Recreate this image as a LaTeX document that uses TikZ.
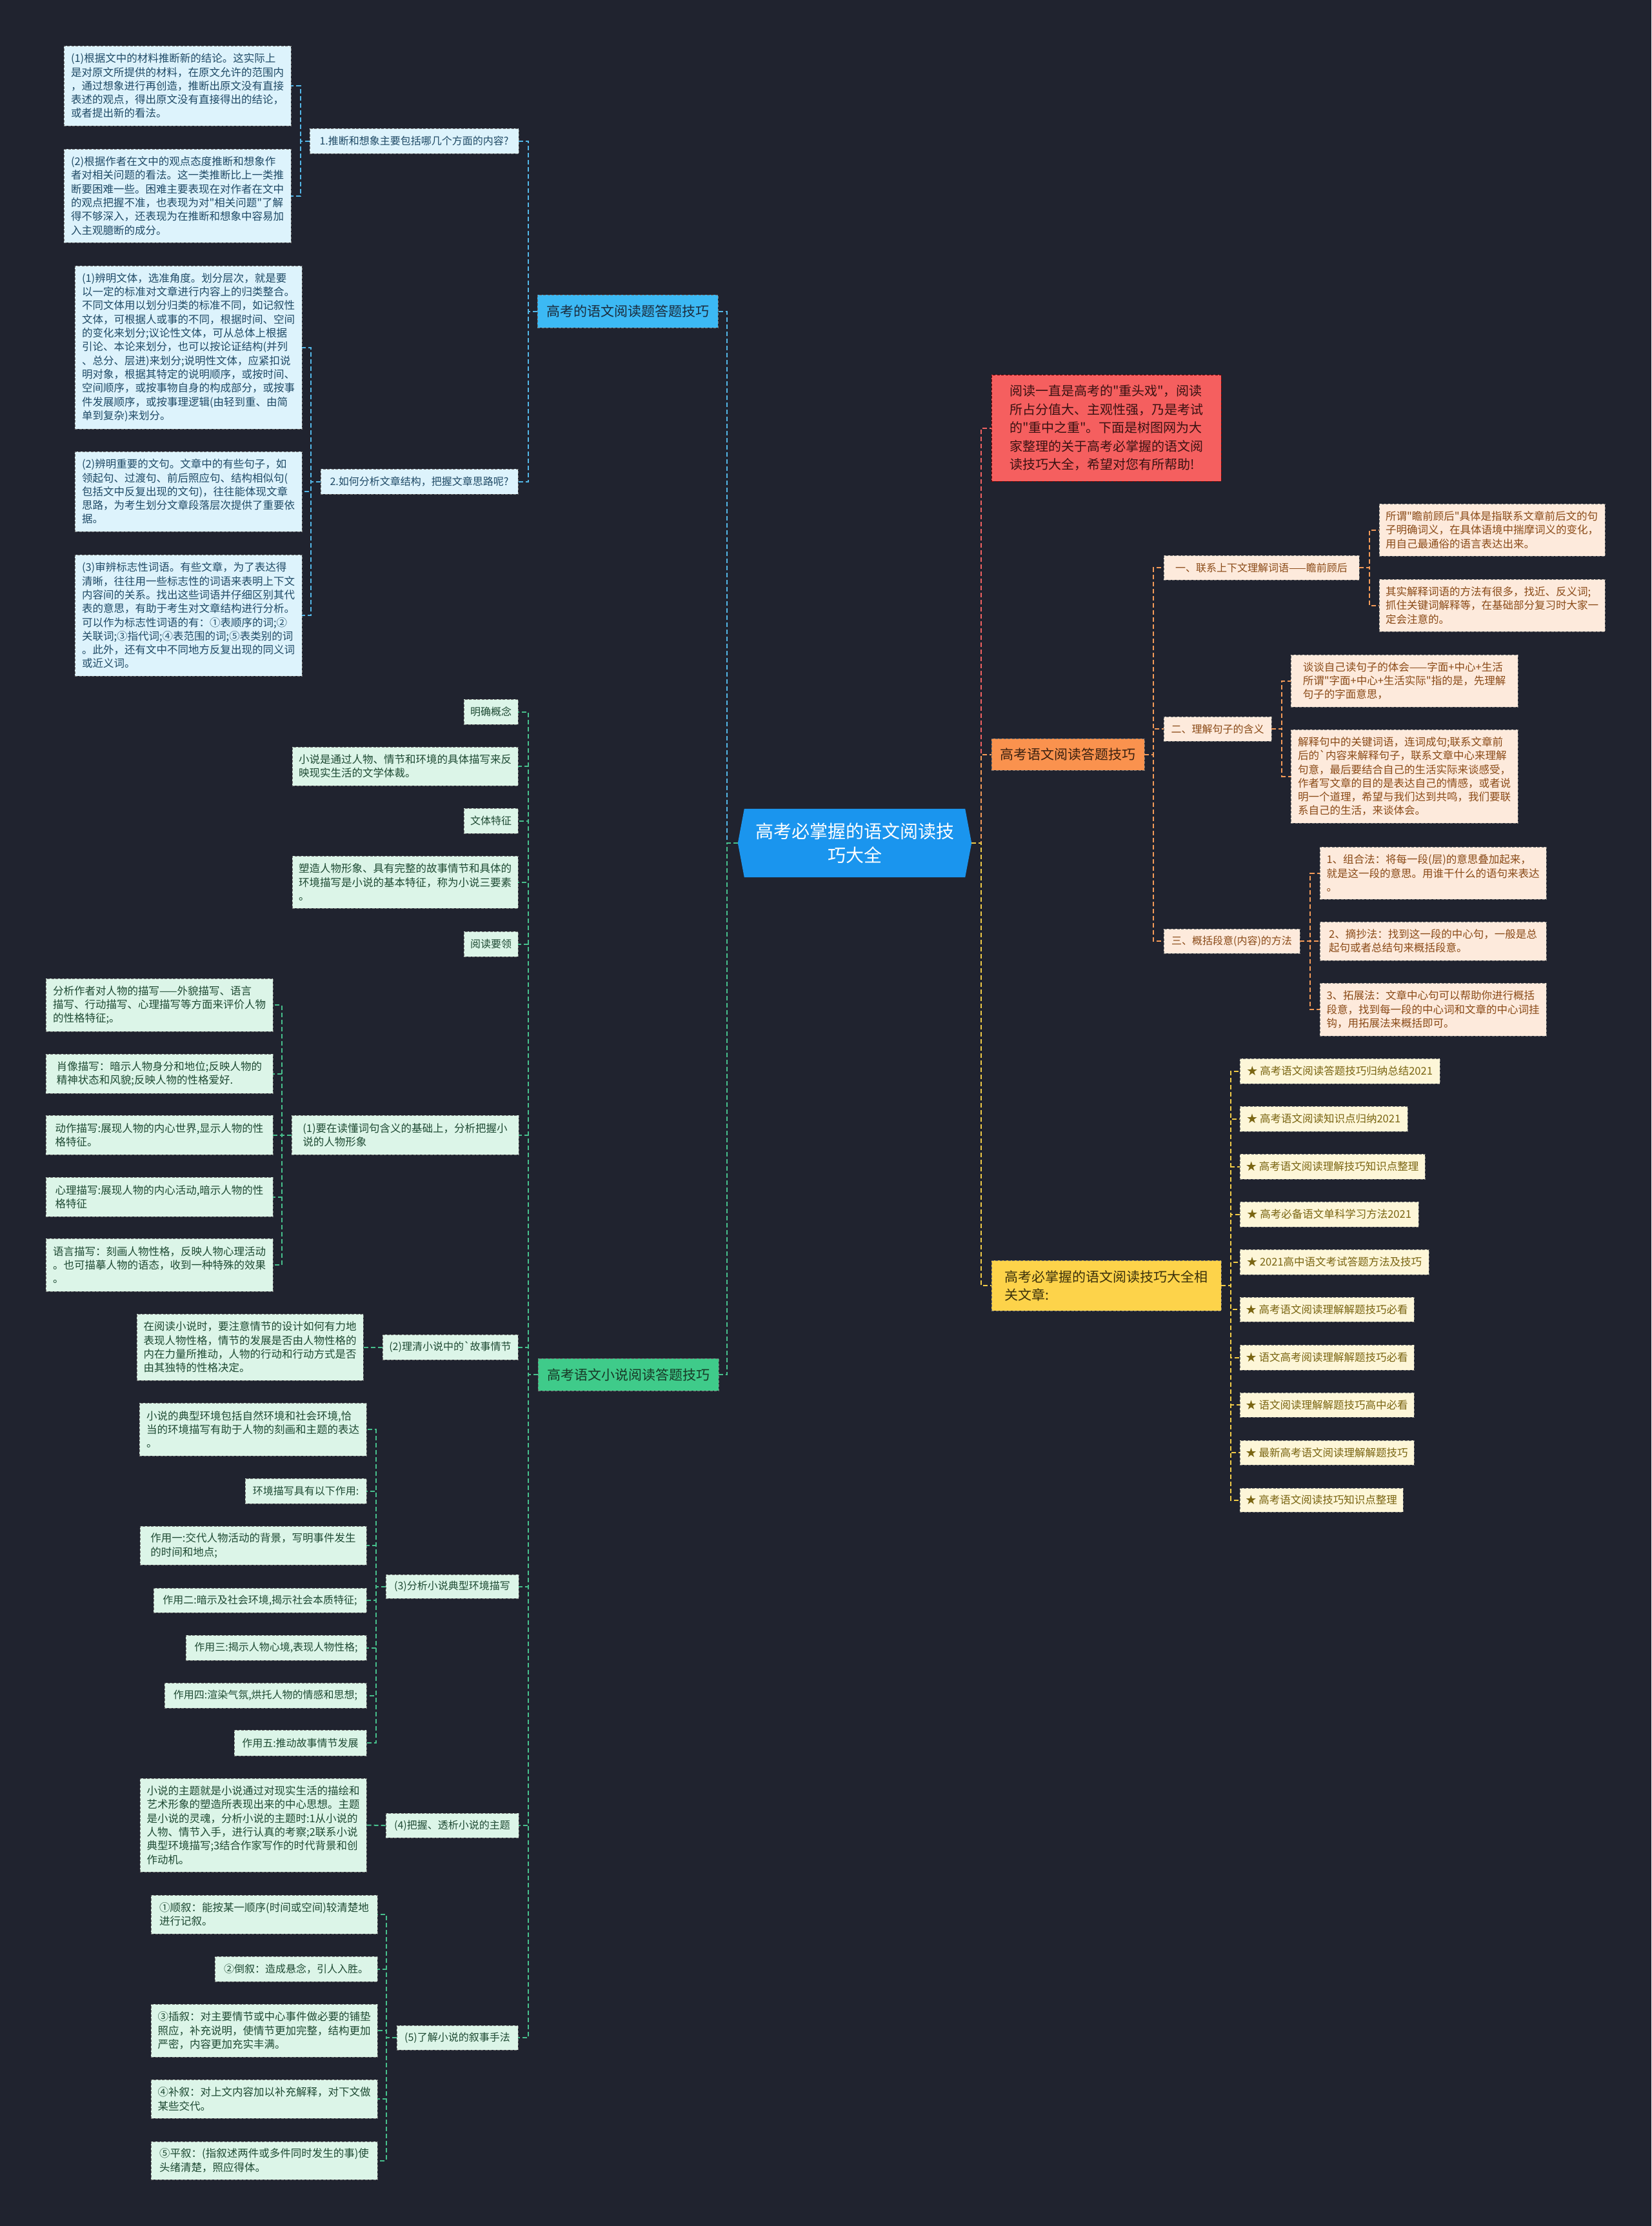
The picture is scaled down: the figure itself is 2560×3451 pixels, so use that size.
\documentclass[tikz,border=0pt]{standalone}
\usepackage{fontspec}
\newfontfamily\cjk{Noto Sans CJK SC}
\pgfdeclarelayer{background}
\pgfsetlayers{background,main}
\definecolor{bgc}{HTML}{20232F}
\definecolor{bluehd}{HTML}{3CB9F4}
\definecolor{bluehdtx}{HTML}{1A2B3C}
\definecolor{blueleaf}{HTML}{DDF3FC}
\definecolor{bluetx}{HTML}{1F4A66}
\definecolor{bluecn}{HTML}{53B6E6}
\definecolor{greenhd}{HTML}{3FCB8A}
\definecolor{greenhdtx}{HTML}{173826}
\definecolor{greenleaf}{HTML}{DCF5E8}
\definecolor{greentx}{HTML}{1E4A33}
\definecolor{greencn}{HTML}{47BF8C}
\definecolor{centerc}{HTML}{1A95EE}
\definecolor{redc}{HTML}{F55F5F}
\definecolor{redtx}{HTML}{3A1212}
\definecolor{redcn}{HTML}{F26262}
\definecolor{orangehd}{HTML}{FA924E}
\definecolor{orangehdtx}{HTML}{3A2010}
\definecolor{orangeleaf}{HTML}{FDEADC}
\definecolor{orangetx}{HTML}{8A4A17}
\definecolor{orangecn}{HTML}{F39A58}
\definecolor{yellowhd}{HTML}{FDD34A}
\definecolor{yellowhdtx}{HTML}{3A300B}
\definecolor{yellowleaf}{HTML}{FDF6D8}
\definecolor{yellowtx}{HTML}{7A6512}
\definecolor{yellowcn}{HTML}{F0CB47}
\tikzset{
  basebox/.style={draw=black!55, line width=0.9pt, dash pattern=on 4pt off 2.5pt,
    inner xsep=9pt, inner ysep=0pt, align=left, anchor=center},
  smallf/.style={font={\cjk\fontsize{16.5}{21.3}\selectfont}},
  labf/.style={font={\cjk\fontsize{16}{21.3}\selectfont}},
  headf/.style={font={\cjk\fontsize{21}{28}\selectfont}},
  bleaf/.style={basebox, smallf, fill=blueleaf, text=bluetx},
  blab/.style={basebox, labf, fill=blueleaf, text=bluetx},
  bhead/.style={basebox, headf, fill=bluehd, text=bluehdtx},
  gleaf/.style={basebox, smallf, fill=greenleaf, text=greentx},
  glab/.style={basebox, labf, fill=greenleaf, text=greentx},
  ghead/.style={basebox, headf, fill=greenhd, text=greenhdtx},
  oleaf/.style={basebox, smallf, fill=orangeleaf, text=orangetx},
  olab/.style={basebox, labf, fill=orangeleaf, text=orangetx},
  ohead/.style={basebox, headf, fill=orangehd, text=orangehdtx},
  yleaf/.style={basebox, smallf, fill=yellowleaf, text=yellowtx},
  yhead/.style={basebox, headf, fill=yellowhd, text=yellowhdtx},
  introbox/.style={basebox, draw=red!45!black, font={\cjk\fontsize{20}{28.5}\selectfont}, fill=redc, text=redtx},
  centerbox/.style={inner sep=0pt, align=center, text=white, font={\cjk\fontsize{28}{37}\selectfont}},
  cn/.style={line width=2pt, dash pattern=on 7pt off 4pt},
  cnb/.style={cn, draw=bluecn},
  cng/.style={cn, draw=greencn},
  cnr/.style={cn, draw=redcn},
  cno/.style={cn, draw=orangecn},
  cny/.style={cn, draw=yellowcn},
}
\newcommand\mynode[7]{%
  \pgfmathsetmacro\mmx{(#2+#4)/2}%
  \pgfmathsetmacro\mmy{(#3+#5)/2}%
  \pgfmathsetmacro\mmw{#4-#2}%
  \pgfmathsetmacro\mmh{#5-#3}%
  \node[#6, minimum width=\mmw pt, minimum height=\mmh pt] (#1) at (\mmx,\mmy) {#7};%
}
\begin{document}
\begin{tikzpicture}[x=1pt,y=-1pt]
\begin{pgfonlayer}{background}
\fill[bgc] (0,0) rectangle (2560,3451);
\end{pgfonlayer}
\useasboundingbox (0,0) rectangle (2560,3451);

% ---------- center ----------
\mynode{ctr}{1144}{1254}{1506}{1360}{centerbox}{高考必掌握的语文阅读技\\巧大全}
\begin{pgfonlayer}{background}
\fill[centerc] ([xshift=10pt]ctr.north west) -- ([xshift=-10pt]ctr.north east) -- (ctr.east)
  -- ([xshift=-10pt]ctr.south east) -- ([xshift=10pt]ctr.south west) -- (ctr.west) -- cycle;
\end{pgfonlayer}

% ---------- blue branch ----------
\mynode{hb}{833}{457}{1113}{508}{bhead}{高考的语文阅读题答题技巧}
\mynode{l1}{480}{199}{804}{238}{blab}{1.推断和想象主要包括哪几个方面的内容?}
\mynode{b11}{99}{71}{451}{195}{bleaf}{(1)根据文中的材料推断新的结论。这实际上\\是对原文所提供的材料，在原文允许的范围内\\，通过想象进行再创造，推断出原文没有直接\\表述的观点，得出原文没有直接得出的结论，\\或者提出新的看法。}
\mynode{b12}{99}{231}{451}{376}{bleaf}{(2)根据作者在文中的观点态度推断和想象作\\者对相关问题的看法。这一类推断比上一类推\\断要困难一些。困难主要表现在对作者在文中\\的观点把握不准，也表现为对"相关问题"了解\\得不够深入，还表现为在推断和想象中容易加\\入主观臆断的成分。}
\mynode{l2}{497}{727}{803}{766}{blab}{2.如何分析文章结构，把握文章思路呢?}
\mynode{b21}{116}{412}{468}{665}{bleaf}{(1)辨明文体，选准角度。划分层次，就是要\\以一定的标准对文章进行内容上的归类整合。\\不同文体用以划分归类的标准不同，如记叙性\\文体，可根据人或事的不同，根据时间、空间\\的变化来划分;议论性文体，可从总体上根据\\引论、本论来划分，也可以按论证结构(并列\\、总分、层进)来划分;说明性文体，应紧扣说\\明对象，根据其特定的说明顺序，或按时间、\\空间顺序，或按事物自身的构成部分，或按事\\件发展顺序，或按事理逻辑(由轻到重、由简\\单到复杂)来划分。}
\mynode{b22}{116}{700}{468}{824}{bleaf}{(2)辨明重要的文句。文章中的有些句子，如\\领起句、过渡句、前后照应句、结构相似句(\\包括文中反复出现的文句)，往往能体现文章\\思路，为考生划分文章段落层次提供了重要依\\据。}
\mynode{b23}{116}{860}{468}{1048}{bleaf}{(3)审辨标志性词语。有些文章，为了表达得\\清晰，往往用一些标志性的词语来表明上下文\\内容间的关系。找出这些词语并仔细区别其代\\表的意思，有助于考生对文章结构进行分析。\\可以作为标志性词语的有：①表顺序的词;②\\关联词;③指代词;④表范围的词;⑤表类别的词\\。此外，还有文中不同地方反复出现的同义词\\或近义词。}

% ---------- green branch ----------
\mynode{hg}{834}{2106}{1114}{2156}{ghead}{高考语文小说阅读答题技巧}
\mynode{g1}{719}{1084}{803}{1123}{glab}{明确概念}
\mynode{g2}{453}{1158}{803}{1218}{gleaf}{小说是通过人物、情节和环境的具体描写来反\\映现实生活的文学体裁。}
\mynode{g3}{719}{1253}{803}{1292}{glab}{文体特征}
\mynode{g4}{453}{1327}{803}{1408}{gleaf}{塑造人物形象、具有完整的故事情节和具体的\\环境描写是小说的基本特征，称为小说三要素\\。}
\mynode{g5}{719}{1444}{803}{1483}{glab}{阅读要领}
\mynode{s1}{452}{1729}{804}{1790}{gleaf}{(1)要在读懂词句含义的基础上，分析把握小\\说的人物形象}
\mynode{s1a}{71}{1517}{423}{1599}{gleaf}{分析作者对人物的描写——外貌描写、语言\\描写、行动描写、心理描写等方面来评价人物\\的性格特征;。}
\mynode{s1b}{71}{1634}{423}{1695}{gleaf}{肖像描写：暗示人物身分和地位;反映人物的\\精神状态和风貌;反映人物的性格爱好.}
\mynode{s1c}{71}{1729}{423}{1790}{gleaf}{动作描写:展现人物的内心世界,显示人物的性\\格特征。}
\mynode{s1d}{71}{1825}{423}{1886}{gleaf}{心理描写:展现人物的内心活动,暗示人物的性\\格特征}
\mynode{s1e}{71}{1920}{423}{2002}{gleaf}{语言描写：刻画人物性格，反映人物心理活动\\。也可描摹人物的语态，收到一种特殊的效果\\。}
\mynode{s2}{593}{2069}{803}{2108}{glab}{(2)理清小说中的`故事情节}
\mynode{s2a}{212}{2037}{563}{2140}{gleaf}{在阅读小说时，要注意情节的设计如何有力地\\表现人物性格，情节的发展是否由人物性格的\\内在力量所推动，人物的行动和行动方式是否\\由其独特的性格决定。}
\mynode{s3}{598}{2441}{804}{2478}{glab}{(3)分析小说典型环境描写}
\mynode{s3a}{216}{2175}{568}{2257}{gleaf}{小说的典型环境包括自然环境和社会环境,恰\\当的环境描写有助于人物的刻画和主题的表达\\。}
\mynode{s3b}{380}{2292}{568}{2331}{glab}{环境描写具有以下作用:}
\mynode{s3c}{217}{2366}{568}{2426}{gleaf}{作用一:交代人物活动的背景，写明事件发生\\的时间和地点;}
\mynode{s3d}{238}{2462}{568}{2500}{glab}{作用二:暗示及社会环境,揭示社会本质特征;}
\mynode{s3e}{288}{2535}{568}{2574}{glab}{作用三:揭示人物心境,表现人物性格;}
\mynode{s3f}{255}{2609}{568}{2648}{glab}{作用四:渲染气氛,烘托人物的情感和思想;}
\mynode{s3g}{363}{2682}{568}{2722}{glab}{作用五:推动故事情节发展}
\mynode{s4}{598}{2811}{804}{2849}{glab}{(4)把握、透析小说的主题}
\mynode{s4a}{217}{2757}{568}{2902}{gleaf}{小说的主题就是小说通过对现实生活的描绘和\\艺术形象的塑造所表现出来的中心思想。主题\\是小说的灵魂，分析小说的主题时:1从小说的\\人物、情节入手，进行认真的考察;2联系小说\\典型环境描写;3结合作家写作的时代背景和创\\作动机。}
\mynode{s5}{615}{3140}{803}{3178}{glab}{(5)了解小说的叙事手法}
\mynode{s5a}{234}{2938}{585}{2998}{gleaf}{①顺叙：能按某一顺序(时间或空间)较清楚地\\进行记叙。}
\mynode{s5b}{333}{3033}{585}{3072}{glab}{②倒叙：造成悬念，引人入胜。}
\mynode{s5c}{234}{3107}{585}{3189}{gleaf}{③插叙：对主要情节或中心事件做必要的铺垫\\照应，补充说明，使情节更加完整，结构更加\\严密，内容更加充实丰满。}
\mynode{s5d}{234}{3224}{585}{3284}{gleaf}{④补叙：对上文内容加以补充解释，对下文做\\某些交代。}
\mynode{s5e}{234}{3320}{585}{3379}{gleaf}{⑤平叙：(指叙述两件或多件同时发生的事)使\\头绪清楚，照应得体。}

% ---------- red intro ----------
\mynode{intro}{1537}{581}{1893}{746}{introbox}{阅读一直是高考的"重头戏"，阅读\\所占分值大、主观性强，乃是考试\\的"重中之重"。下面是树图网为大\\家整理的关于高考必掌握的语文阅\\读技巧大全，希望对您有所帮助!}

% ---------- orange branch ----------
\mynode{ho}{1537}{1145}{1774}{1194}{ohead}{高考语文阅读答题技巧}
\mynode{o1}{1804}{861}{2107}{899}{olab}{一、联系上下文理解词语——瞻前顾后}
\mynode{o1a}{2138}{781}{2488}{862}{oleaf}{所谓"瞻前顾后"具体是指联系文章前后文的句\\子明确词义，在具体语境中揣摩词义的变化，\\用自己最通俗的语言表达出来。}
\mynode{o1b}{2138}{898}{2488}{979}{oleaf}{其实解释词语的方法有很多，找近、反义词;\\抓住关键词解释等，在基础部分复习时大家一\\定会注意的。}
\mynode{o2}{1804}{1111}{1971}{1149}{olab}{二、理解句子的含义}
\mynode{o2a}{2001}{1015}{2353}{1096}{oleaf}{谈谈自己读句子的体会——字面+中心+生活\\所谓"字面+中心+生活实际"指的是，先理解\\句子的字面意思，}
\mynode{o2b}{2001}{1131}{2353}{1276}{oleaf}{解释句中的关键词语，连词成句;联系文章前\\后的`内容来解释句子，联系文章中心来理解\\句意，最后要结合自己的生活实际来谈感受，\\作者写文章的目的是表达自己的情感，或者说\\明一个道理，希望与我们达到共鸣，我们要联\\系自己的生活，来谈体会。}
\mynode{o3}{1804}{1440}{2015}{1478}{olab}{三、概括段意(内容)的方法}
\mynode{o3a}{2046}{1313}{2397}{1394}{oleaf}{1、组合法：将每一段(层)的意思叠加起来，\\就是这一段的意思。用谁干什么的语句来表达\\。}
\mynode{o3b}{2046}{1429}{2397}{1489}{oleaf}{2、摘抄法：找到这一段的中心句，一般是总\\起句或者总结句来概括段意。}
\mynode{o3c}{2046}{1524}{2397}{1606}{oleaf}{3、拓展法：文章中心句可以帮助你进行概括\\段意，找到每一段的中心词和文章的中心词挂\\钩，用拓展法来概括即可。}

% ---------- yellow branch ----------
\mynode{hy}{1537}{1954}{1893}{2032}{yhead}{高考必掌握的语文阅读技巧大全相\\关文章:}
\mynode{y1}{1922}{1641}{2232}{1680}{yleaf}{★ 高考语文阅读答题技巧归纳总结2021}
\mynode{y2}{1922}{1715}{2182}{1754}{yleaf}{★ 高考语文阅读知识点归纳2021}
\mynode{y3}{1922}{1789}{2209}{1828}{yleaf}{★ 高考语文阅读理解技巧知识点整理}
\mynode{y4}{1922}{1863}{2199}{1902}{yleaf}{★ 高考必备语文单科学习方法2021}
\mynode{y5}{1922}{1937}{2215}{1976}{yleaf}{★ 2021高中语文考试答题方法及技巧}
\mynode{y6}{1922}{2011}{2192}{2049}{yleaf}{★ 高考语文阅读理解解题技巧必看}
\mynode{y7}{1922}{2085}{2192}{2124}{yleaf}{★ 语文高考阅读理解解题技巧必看}
\mynode{y8}{1922}{2159}{2192}{2197}{yleaf}{★ 语文阅读理解解题技巧高中必看}
\mynode{y9}{1922}{2233}{2192}{2271}{yleaf}{★ 最新高考语文阅读理解解题技巧}
\mynode{y10}{1922}{2307}{2175}{2344}{yleaf}{★ 高考语文阅读技巧知识点整理}

% ---------- connectors ----------
\draw[cnb] (ctr.west) -- ++(-16.5,0) |- (hb.east);
\draw[cng] (ctr.west) -- ++(-16.5,0) |- (hg.east);
\foreach \c in {l1,l2} \draw[cnb] (hb.west) -- ++(-14,0) |- (\c.east);
\foreach \c in {b11,b12} \draw[cnb] (l1.west) -- ++(-14,0) |- (\c.east);
\foreach \c in {b21,b22,b23} \draw[cnb] (l2.west) -- ++(-15,0) |- (\c.east);

\foreach \c in {g1,g2,g3,g4,g5,s1,s2,s3,s4,s5} \draw[cng] (hg.west) -- ++(-15,0) |- (\c.east);
\foreach \c in {s1a,s1b,s1c,s1d,s1e} \draw[cng] (s1.west) -- ++(-15,0) |- (\c.east);
\draw[cng] (s2.west) -- (s2a.east);
\foreach \c in {s3a,s3b,s3c,s3d,s3e,s3f,s3g} \draw[cng] (s3.west) -- ++(-15,0) |- (\c.east);
\draw[cng] (s4.west) -- (s4a.east);
\foreach \c in {s5a,s5b,s5c,s5d,s5e} \draw[cng] (s5.west) -- ++(-16,0) |- (\c.east);

\draw[cnr] (ctr.east) -- ++(15,0) |- (intro.west);
\draw[cno] (ctr.east) -- ++(15,0) |- (ho.west);
\draw[cny] (ctr.east) -- ++(15,0) |- (hy.west);
\foreach \c in {o1,o2,o3} \draw[cno] (ho.east) -- ++(14,0) |- (\c.west);
\foreach \c in {o1a,o1b} \draw[cno] (o1.east) -- ++(15.5,0) |- (\c.west);
\foreach \c in {o2a,o2b} \draw[cno] (o2.east) -- ++(15.6,0) |- (\c.west);
\foreach \c in {o3a,o3b,o3c} \draw[cno] (o3.east) -- ++(16,0) |- (\c.west);
\foreach \c in {y1,y2,y3,y4,y5,y6,y7,y8,y9,y10} \draw[cny] (hy.east) -- ++(15,0) |- (\c.west);
\end{tikzpicture}
\end{document}
